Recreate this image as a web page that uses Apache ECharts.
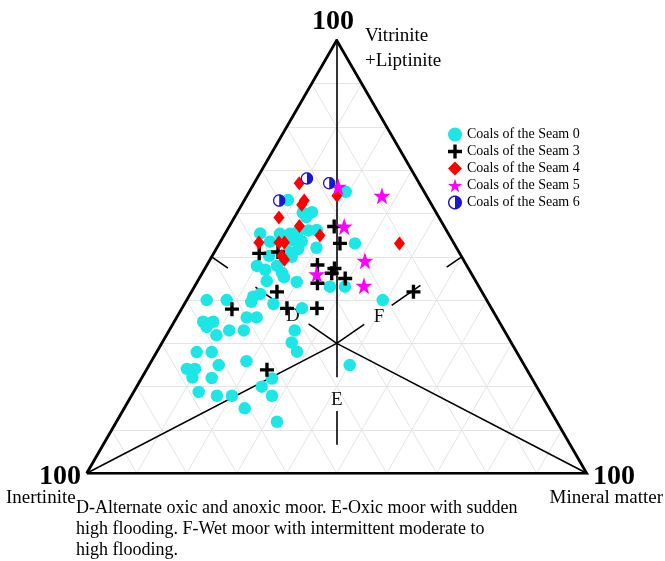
<!DOCTYPE html>
<html>
<head>
<meta charset="utf-8">
<script src="https://cdn.jsdelivr.net/npm/echarts@6/dist/echarts.min.js"></script>
<style>
html, body { margin: 0; padding: 0; background: #fff; }
#tern { width: 665px; height: 561px; }
</style>
</head>
<body>
<div id="tern"></div>
<script>
// compositions, [vitrinite+liptinite, inertinite, mineral matter] in %
const seam0 = [
  [65.0,15.7,19.3],[63.1,28.2,8.7],[60.2,26.7,13.1],[60.3,24.8,14.9],[55.4,37.6,7.0],
  [53.5,36.6,9.9],[55.3,33.7,11.0],[55.3,31.7,13.0],[55.8,29.8,14.4],[56.1,27.6,16.3],
  [56.2,25.9,17.9],[53.9,32.0,14.1],[53.6,30.2,16.2],[52.1,28.0,19.9],[53.1,19.8,27.1],
  [51.2,34.1,14.7],[50.2,38.4,11.4],[50.0,34.0,16.0],[47.9,42.0,10.1],[47.0,40.8,12.2],
  [47.9,38.0,14.1],[46.3,37.8,15.9],[44.4,41.8,13.8],[45.3,37.9,16.8],[44.2,35.9,19.9],
  [43.1,29.8,27.1],[43.1,26.8,30.1],[40.0,20.8,39.2],[40.8,46.3,12.9],[41.4,44.6,14.0],
  [39.1,43.1,17.8],[38.1,37.9,24.0],[40.0,56.0,4.0],[40.0,52.0,8.0],[36.0,50.0,14.0],
  [36.0,48.0,16.0],[35.0,59.2,5.8],[35.0,57.2,7.8],[33.8,59.1,7.1],[31.9,58.1,10.0],
  [33.0,55.0,12.0],[33.0,52.1,14.9],[33.0,41.9,25.1],[30.2,43.9,25.9],[28.1,43.9,28.0],
  [28.0,64.0,8.0],[28.0,61.0,11.0],[25.0,61.1,13.9],[25.9,55.1,19.0],[24.1,67.9,8.0],
  [24.1,66.3,9.6],[22.1,67.8,10.1],[22.0,64.0,14.0],[18.8,68.2,13.0],[17.9,65.0,17.1],
  [17.9,62.0,20.1],[20.0,55.0,25.0],[21.9,52.0,26.1],[17.9,54.0,28.1],[15.0,60.9,24.1],
  [11.9,56.0,32.1],[25.0,34.9,40.1],[59.2,26.5,14.3],[51.8,31.8,16.4],[39.6,47.3,13.1]
];
const seam3 = [
  [57.0,22.0,21.0],[53.1,22.8,24.1],[50.8,40.1,9.1],[51.1,36.2,12.7],[48.1,29.8,22.1],
  [47.3,26.8,25.9],[46.2,27.9,25.9],[45.0,25.8,29.2],[43.9,31.9,24.2],[41.9,41.0,17.1],
  [37.9,52.0,10.1],[38.1,40.9,21.0],[38.1,34.9,27.0],[41.9,13.7,44.4],[23.9,52.0,24.1]
];
const seam4 = [
  [67.0,24.0,9.0],[63.0,25.0,12.0],[62.0,26.0,12.0],[59.1,32.0,8.9],[57.1,28.9,14.0],
  [54.9,25.9,19.2],[64.1,17.9,18.0],[53.3,38.9,7.8],[53.3,34.9,11.8],[53.3,33.8,12.9],
  [50.2,35.9,13.9],[49.3,35.8,14.9],[53.1,10.9,36.0]
];
const seam5 = [
  [66.2,16.6,17.2],[64.1,8.9,27.0],[57.0,20.0,23.0],[46.0,31.0,23.0],[49.1,19.8,31.1],
  [43.3,22.9,33.8]
];
const seam6 = [[68.1,21.9,10.0],[67.0,18.0,15.0],[63.0,30.0,7.0]];
const seriesNames = ['Coals of the Seam 0', 'Coals of the Seam 3', 'Coals of the Seam 4',
  'Coals of the Seam 5', 'Coals of the Seam 6'];
const gridSteps = [10, 20, 30, 40, 50, 60, 70, 80, 90];

// facies field boundaries: all meet at the centre point
const centre = [30, 35, 35];
const corners = [[100, 0, 0], [0, 100, 0], [0, 0, 100]];
// broken guide lines: start on an edge, drawn pieces as fractions of the way to the centre
const guides = [
  { from: [50, 50, 0], parts: [[0, 0.13], [0.35, 0.5], [0.775, 1]] },
  { from: [50, 0, 50], parts: [[0, 0.12], [0.33, 0.56], [0.78, 1]] },
  { from: [0, 50, 50], parts: [[0.22, 0.48], [0.74, 1]] }
];
const zoneNames = ['D', 'E', 'F'];
const zonePos = [[36.3, 40.6, 23.1], [16.9, 41.55, 41.55], [36.1, 23.5, 40.4]];

const SERIF = "'Liberation Serif', 'Times New Roman', serif";
const H = Math.sqrt(3) / 2;
function toXY(p) {
  return [p[2] + p[0] / 2, p[0] * H];
}
function lerp(a, b, t) {
  return [0, 1, 2].map(i => a[i] + (b[i] - a[i]) * t);
}

const gridLines = [];
gridSteps.forEach(k => {
  gridLines.push({ coords: [toXY([k, 100 - k, 0]), toXY([k, 0, 100 - k])] });
  gridLines.push({ coords: [toXY([0, k, 100 - k]), toXY([100 - k, k, 0])] });
  gridLines.push({ coords: [toXY([0, 100 - k, k]), toXY([100 - k, 0, k])] });
});
const refLines = corners.map(c => ({ coords: [toXY(c), toXY(centre)] }));
guides.forEach(g => {
  g.parts.forEach(p => {
    refLines.push({ coords: [toXY(lerp(g.from, centre, p[0])), toXY(lerp(g.from, centre, p[1]))] });
  });
});

// half filled circle symbol made of polygons so the winding is explicit
function ring(r, a0, a1, step) {
  let s = '';
  for (let a = a0; step > 0 ? a <= a1 : a >= a1; a += step) {
    const t = a * Math.PI / 180;
    s += (s ? 'L' : 'M') + (10 + r * Math.cos(t)).toFixed(2) + ',' + (10 + r * Math.sin(t)).toFixed(2);
  }
  return s + 'Z';
}
const halfPath = 'path://' + ring(10, 0, 360, 10) + ring(7.9, 360, 0, -10) + ring(7.9, -90, 90, 10);
const plusPath = 'path://M3.8,0H6.2V3.8H10V6.2H6.2V10H3.8V6.2H0V3.8H3.8Z';
const starPath = 'path://M50,0L61.8,35.3L98.1,35.3L68.8,57.1L79.4,91.9L50,70.5L20.6,91.9L31.2,57.1L1.9,35.3L38.2,35.3Z';

function pts(arr) { return arr.map(toXY); }

const chart = echarts.init(document.getElementById('tern'));
chart.setOption({
  animation: false,
  backgroundColor: '#fff',
  grid: { left: 86.7, right: 78.3, top: 40.3, bottom: 87.7 },
  xAxis: { type: 'value', min: 0, max: 100, show: false },
  yAxis: { type: 'value', min: 0, max: 100 * H, show: false },
  legend: {
    orient: 'vertical', left: 443, top: 122.5,
    itemWidth: 14, itemHeight: 14, itemGap: 3,
    selectedMode: false,
    data: seriesNames,
    textStyle: { fontFamily: SERIF, fontSize: 14, color: '#000' }
  },
  graphic: [
    { type: 'text', x: 333, y: 22, style: { text: '100', fontFamily: SERIF, fontSize: 28, fontWeight: 'bold', fill: '#000', align: 'center', verticalAlign: 'middle' } },
    { type: 'text', x: 60, y: 477, style: { text: '100', fontFamily: SERIF, fontSize: 28, fontWeight: 'bold', fill: '#000', align: 'center', verticalAlign: 'middle' } },
    { type: 'text', x: 614, y: 477, style: { text: '100', fontFamily: SERIF, fontSize: 28, fontWeight: 'bold', fill: '#000', align: 'center', verticalAlign: 'middle' } },
    { type: 'text', left: 365, top: 24, style: { text: 'Vitrinite\n+Liptinite', fontFamily: SERIF, fontSize: 19, lineHeight: 25, fill: '#000' } },
    { type: 'text', left: 6, top: 489, style: { text: 'Inertinite', fontFamily: SERIF, fontSize: 19, fill: '#000' } },
    { type: 'text', right: 2, top: 489, style: { text: 'Mineral matter', fontFamily: SERIF, fontSize: 19, fill: '#000' } },
    { type: 'text', left: 76, top: 498, style: {
      text: 'D-Alternate oxic and anoxic moor. E-Oxic moor with sudden\nhigh flooding. F-Wet moor with intermittent moderate to\nhigh flooding.',
      fontFamily: SERIF, fontSize: 18, lineHeight: 21, fill: '#000' } }
  ],
  series: [
    {
      type: 'lines', coordinateSystem: 'cartesian2d', silent: true, z: 1,
      lineStyle: { color: '#e4e4e4', width: 1, opacity: 1 },
      data: gridLines
    },
    {
      type: 'lines', coordinateSystem: 'cartesian2d', silent: true, z: 2,
      lineStyle: { color: '#000', width: 1.6, opacity: 1 },
      data: refLines
    },
    {
      type: 'line', silent: true, z: 2, symbol: 'none',
      lineStyle: { color: '#000', width: 2.8, join: 'miter' },
      data: pts([corners[1], corners[2], corners[0], corners[1]])
    },
    {
      type: 'scatter', silent: true, z: 2, symbolSize: 1,
      itemStyle: { color: 'rgba(0,0,0,0)' },
      label: {
        show: true, position: 'inside', formatter: '{b}', fontFamily: SERIF, fontSize: 19,
        color: '#111', textBorderWidth: 0, opacity: 1
      },
      data: zonePos.map((p, i) => ({ name: zoneNames[i], value: toXY(p) }))
    },
    {
      name: seriesNames[0], type: 'scatter', z: 3, symbol: 'circle', symbolSize: 12.5,
      itemStyle: { color: '#1ce6e6', opacity: 1 }, data: pts(seam0)
    },
    {
      name: seriesNames[1], type: 'scatter', z: 3, symbol: plusPath, symbolSize: 14,
      itemStyle: { color: '#000', opacity: 1 }, data: pts(seam3)
    },
    {
      name: seriesNames[2], type: 'scatter', z: 3, symbol: 'diamond', symbolSize: [11, 14],
      itemStyle: { color: '#ff0000', opacity: 1 }, data: pts(seam4)
    },
    {
      name: seriesNames[3], type: 'scatter', z: 3, symbol: starPath, symbolSize: 17,
      itemStyle: { color: '#ff00ff', opacity: 1 }, data: pts(seam5)
    },
    {
      type: 'scatter', z: 3, silent: true, symbol: 'circle', symbolSize: 12,
      itemStyle: { color: '#fff', opacity: 1 }, data: pts(seam6)
    },
    {
      name: seriesNames[4], type: 'scatter', z: 3, symbol: halfPath, symbolSize: 12.5,
      itemStyle: { color: '#1818cc', opacity: 1 }, data: pts(seam6)
    }
  ]
});
</script>
</body>
</html>
